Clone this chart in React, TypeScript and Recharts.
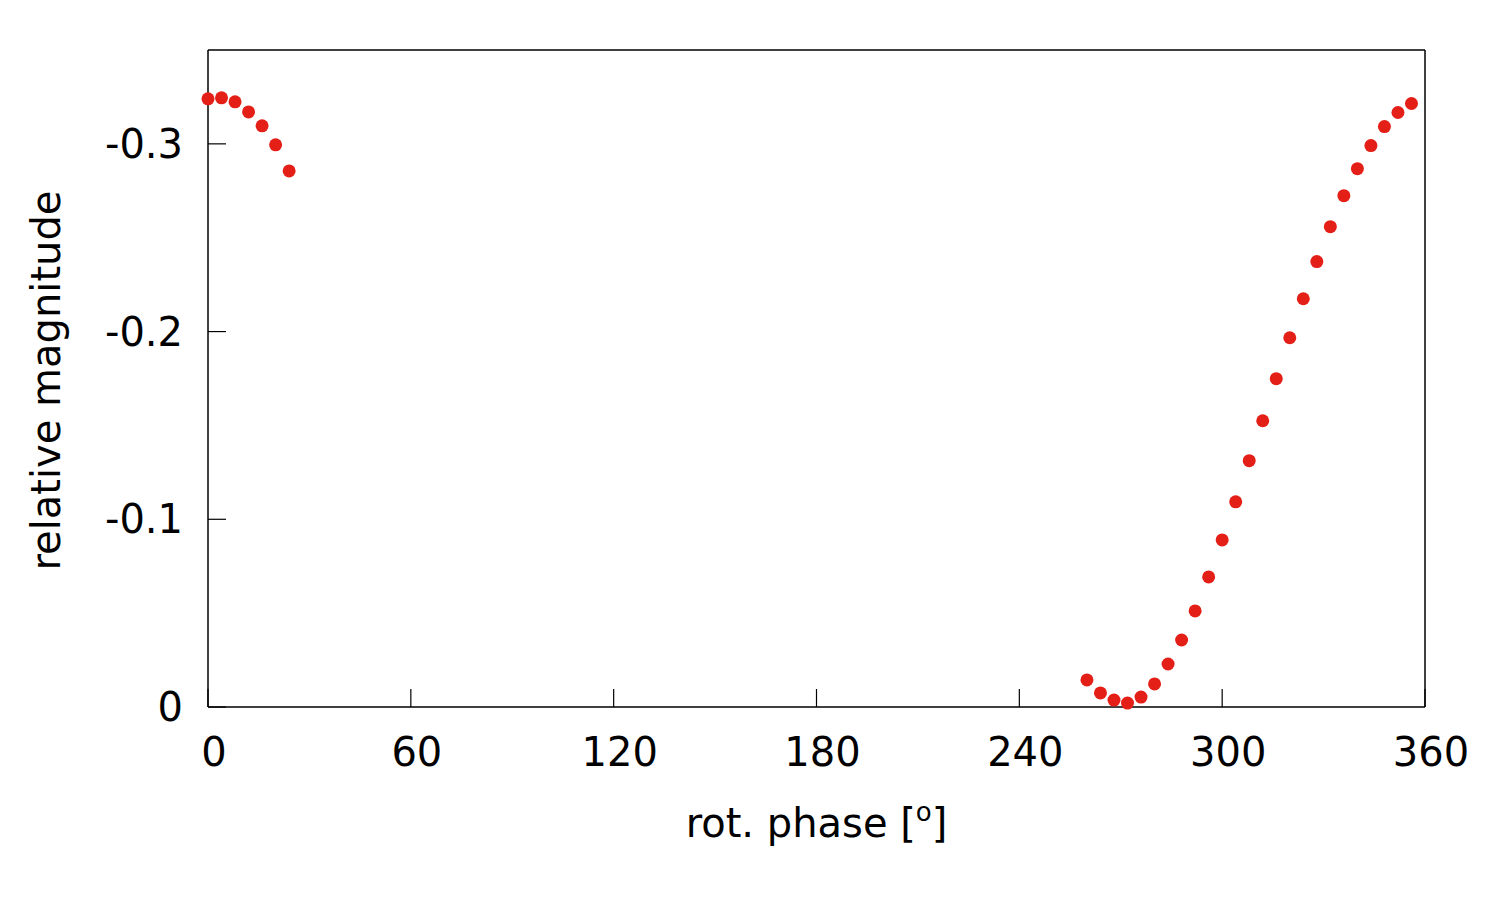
import { Label, Scatter, ScatterChart, XAxis, YAxis } from "recharts";

// rotational phase in degrees, and the relative magnitude
const phases = [
  0, 4, 8, 12, 16, 20, 24,
  260, 264, 268, 272, 276, 280, 284, 288, 292, 296, 300, 304, 308, 312, 316,
  320, 324, 328, 332, 336, 340, 344, 348, 352, 356,
];
const magnitudes = [
  -0.324, -0.3245, -0.3224, -0.317, -0.3096, -0.2995, -0.2856,
  -0.0144, -0.0075, -0.0037, -0.0021, -0.0053, -0.0123, -0.0229, -0.0357,
  -0.0512, -0.0693, -0.089, -0.1093, -0.1312, -0.1525, -0.1749, -0.1967,
  -0.2175, -0.2373, -0.2559, -0.2724, -0.2868, -0.2991, -0.3092, -0.3167,
  -0.3215,
];
const xTicks = [0, 60, 120, 180, 240, 300, 360];
const yTicks = [-0.3, -0.2, -0.1, 0];

const points = phases.map((p, i) => ({ phase: p, mag: magnitudes[i] }));

const FONT = "DejaVu Sans";
const FS = 40;
const DOT = "#e41f17";
const TICK = 18;

function BottomTick(props: any) {
  const { x, y, payload } = props;
  return (
    <g>
      <line x1={x} y1={y} x2={x} y2={y - TICK} stroke="#000" strokeWidth={1.2} />
      <text x={x + 6} y={y + 59} textAnchor="middle" fontFamily={FONT} fontSize={FS} fill="#000">
        {String(payload.value)}
      </text>
    </g>
  );
}

function TopTick(props: any) {
  const { x, y } = props;
  return <line x1={x} y1={y} x2={x} y2={y + TICK} stroke="#000" strokeWidth={1.2} />;
}

function LeftTick(props: any) {
  const { x, y, payload } = props;
  return (
    <g>
      <line x1={x} y1={y} x2={x + TICK} y2={y} stroke="#000" strokeWidth={1.2} />
      <text x={x - 25} y={y + 14} textAnchor="end" fontFamily={FONT} fontSize={FS} fill="#000">
        {String(payload.value)}
      </text>
    </g>
  );
}

function RightTick(props: any) {
  const { x, y } = props;
  return <line x1={x} y1={y} x2={x - TICK} y2={y} stroke="#000" strokeWidth={1.2} />;
}

const axisLine = { stroke: "#000", strokeWidth: 1.5 };

export default function App() {
  return (
    <div style={{ position: "absolute", left: 0, top: 0, background: "#fff", fontFamily: FONT }}>
      <ScatterChart
        width={1500}
        height={900}
        margin={{ top: 49, right: 74, bottom: 192, left: 207 }}
      >
        <XAxis
          xAxisId="b"
          dataKey="phase"
          type="number"
          domain={[0, 360]}
          ticks={xTicks}
          height={1}
          tickSize={0}
          tickMargin={0}
          tickLine={false}
          tick={<BottomTick />}
          axisLine={axisLine}
          interval={0}
        >
          <Label
            content={(p: any) => {
              const vb = p.viewBox;
              return (
                <text
                  x={vb.x + vb.width / 2}
                  y={vb.y + 130}
                  textAnchor="middle"
                  fontFamily={FONT}
                  fontSize={FS}
                  fill="#000"
                >
                  rot. phase [
                  <tspan fontSize={26} dy={-16}>o</tspan>
                  <tspan dy={16}>]</tspan>
                </text>
              );
            }}
          />
        </XAxis>
        <XAxis
          xAxisId="t"
          orientation="top"
          dataKey="phase"
          type="number"
          domain={[0, 360]}
          ticks={xTicks}
          height={1}
          tickSize={0}
          tickMargin={0}
          tickLine={false}
          tick={<TopTick />}
          axisLine={axisLine}
          interval={0}
        />
        <YAxis
          yAxisId="l"
          dataKey="mag"
          type="number"
          domain={[-0.35, 0]}
          reversed
          ticks={yTicks}
          width={1}
          tickSize={0}
          tickMargin={0}
          tickLine={false}
          tick={<LeftTick />}
          axisLine={axisLine}
          interval={0}
        >
          <Label
            content={(p: any) => {
              const vb = p.viewBox;
              const cx = vb.x + vb.width - 148;
              const cy = vb.y + vb.height / 2 + 2;
              return (
                <text
                  x={cx}
                  y={cy}
                  transform={`rotate(-90 ${cx} ${cy})`}
                  textAnchor="middle"
                  fontFamily={FONT}
                  fontSize={FS}
                  fill="#000"
                >
                  relative magnitude
                </text>
              );
            }}
          />
        </YAxis>
        <YAxis
          yAxisId="r"
          orientation="right"
          dataKey="mag"
          type="number"
          domain={[-0.35, 0]}
          reversed
          ticks={yTicks}
          width={1}
          tickSize={0}
          tickMargin={0}
          tickLine={false}
          tick={<RightTick />}
          axisLine={axisLine}
          interval={0}
        />
        <Scatter
          xAxisId="b"
          yAxisId="l"
          data={points}
          isAnimationActive={false}
          shape={(p: any) => <circle cx={p.cx} cy={p.cy} r={6.5} fill={DOT} />}
        />
      </ScatterChart>
    </div>
  );
}
